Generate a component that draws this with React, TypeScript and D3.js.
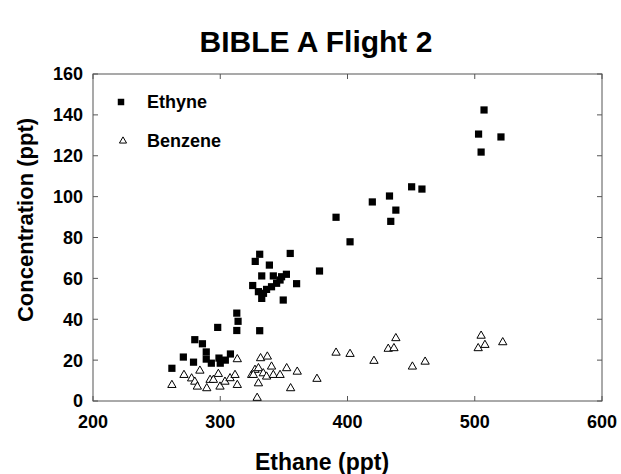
import React from 'react';
import * as d3 from 'd3';

// Ethane (ppt) vs Ethyne (ppt)
const ethyneEthane = [262, 271, 279, 280, 286, 289, 289, 293, 298, 299, 300, 304, 308, 313, 314, 313,
  331, 325.5, 327.5, 331, 332.6, 338.6, 341.7, 352, 355, 360, 332.6, 330, 334, 336.4, 340.3, 344.3, 347, 348.2, 349.5, 378,
  391, 402, 419.5, 433, 438, 434, 450.4, 458.5, 507.3, 503, 520.6, 505];
const ethyneConc = [16, 21.5, 19, 30, 28, 24, 20.5, 18.5, 36, 21, 18.5, 20, 23, 43, 39, 34.5,
  34.4, 56.5, 68.3, 71.8, 61.2, 66.5, 61.2, 62, 72.2, 57.4, 50.2, 53.5, 52.7, 54.6, 55.9, 57.6, 59.2, 60.8, 49.4, 63.6,
  89.9, 77.9, 97.4, 100.3, 93.4, 87.9, 104.8, 103.7, 142.4, 130.6, 129.2, 121.8];

// Ethane (ppt) vs Benzene (ppt)
const benzeneEthane = [262, 271.5, 277.5, 280, 284, 282, 289.4, 292, 294.6, 298.5, 299.8, 303.7, 307.7, 311.6, 313.4, 313.4,
  324.7, 331.7, 337, 327.3, 330, 326, 333.8, 336.4, 340.3, 341.7, 347, 352.2, 360.5, 330, 355.3, 329, 376,
  391, 402, 420.8, 432, 436.5, 438, 451, 461, 505, 508, 502.7, 522];
const benzeneConc = [7.8, 12.7, 11, 9.4, 14.8, 7, 6.2, 10.3, 10.3, 13.2, 7, 9.4, 11.1, 12.7, 20.4, 7.8,
  12.7, 20.9, 21.7, 15.2, 16, 12.7, 13.5, 11.9, 16.8, 12.7, 12.7, 16, 14.3, 8.6, 6.2, 1.5, 10.8,
  23.6, 23, 19.6, 25.5, 25.8, 30.7, 16.8, 19.2, 31.9, 27.4, 25.8, 28.7];

const xTicks = [200, 300, 400, 500, 600];
const yTicks = [0, 20, 40, 60, 80, 100, 120, 140, 160];

const W = 621;
const H = 474;
const left = 93, right = 602, top = 74, bottom = 401;
const FONT = '"Liberation Sans", Arial, Helvetica, sans-serif';

export default function App() {
  const x = d3.scaleLinear().domain([200, 600]).range([left, right]);
  const y = d3.scaleLinear().domain([0, 160]).range([bottom, top]);

  const square = d3.symbol().type(d3.symbolSquare).size(52)()!;
  const triangle = d3.symbol().type(d3.symbolTriangle).size(30)()!;
  const tick = 5;

  return (
    <svg width={W} height={H} style={{ position: 'absolute', left: 0, top: 0, background: '#fff' }}
      fontFamily={FONT}>
      <text x={316} y={52} textAnchor="middle" fontSize={30} fontWeight="bold">BIBLE A Flight 2</text>

      {/* frame */}
      <rect x={left} y={top} width={right - left} height={bottom - top} fill="none" stroke="#555" strokeWidth={1} />

      {/* x ticks and labels */}
      {xTicks.map(t => (
        <g key={'x' + t}>
          <line x1={x(t)} x2={x(t)} y1={bottom} y2={bottom - tick} stroke="#555" />
          <line x1={x(t)} x2={x(t)} y1={top} y2={top + tick} stroke="#555" />
          <text x={x(t)} y={428} textAnchor="middle" fontSize={18} fontWeight="bold">{t}</text>
        </g>
      ))}

      {/* y ticks and labels */}
      {yTicks.map(t => (
        <g key={'y' + t}>
          <line x1={left} x2={left + tick} y1={y(t)} y2={y(t)} stroke="#555" />
          <line x1={right} x2={right - tick} y1={y(t)} y2={y(t)} stroke="#555" />
          <text x={83} y={y(t)} dy="0.36em" textAnchor="end" fontSize={18} fontWeight="bold">{t}</text>
        </g>
      ))}

      <text x={322} y={470} textAnchor="middle" fontSize={23} fontWeight="bold">Ethane (ppt)</text>
      <text transform={`translate(33,220) rotate(-90)`} textAnchor="middle" fontSize={22}
        fontWeight="bold">Concentration (ppt)</text>

      {/* benzene */}
      {benzeneEthane.map((e, i) => (
        <path key={'b' + i} d={triangle} transform={`translate(${x(e)},${y(benzeneConc[i])})`}
          fill="#fff" stroke="#000" strokeWidth={1} />
      ))}

      {/* ethyne */}
      {ethyneEthane.map((e, i) => (
        <path key={'e' + i} d={square} transform={`translate(${x(e)},${y(ethyneConc[i])})`} fill="#000" />
      ))}

      {/* legend */}
      <path d={d3.symbol().type(d3.symbolSquare).size(42)()!} transform="translate(121,102)" fill="#000" />
      <text x={147} y={108} fontSize={18} fontWeight="bold">Ethyne</text>
      <path d={d3.symbol().type(d3.symbolTriangle).size(22)()!} transform="translate(123,141)" fill="#fff" stroke="#000" />
      <text x={147} y={147} fontSize={18} fontWeight="bold">Benzene</text>
    </svg>
  );
}
